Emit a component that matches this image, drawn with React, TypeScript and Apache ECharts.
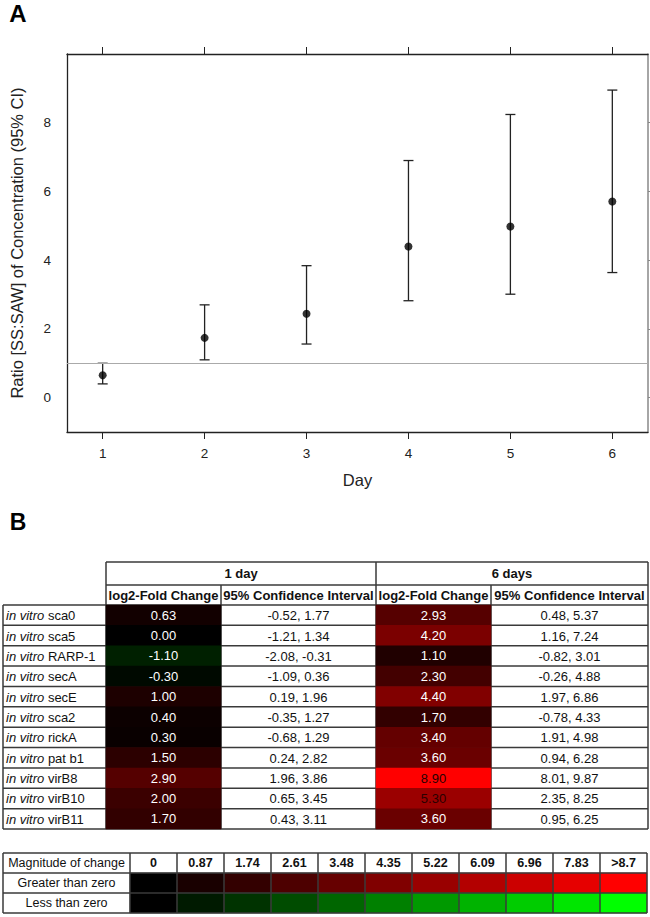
import React, { useEffect, useRef } from "react";
import * as echarts from "echarts";

// ---- Panel A data ----
const days = [1, 2, 3, 4, 5, 6];
const ratioMean = [0.65, 1.74, 2.44, 4.4, 4.98, 5.71];
const ratioLower = [0.4, 1.1, 1.56, 2.82, 3.01, 3.64];
const ratioUpper = [1.0, 2.7, 3.84, 6.9, 8.24, 8.95];
const yTickValues = [0, 2, 4, 6, 8];
const referenceRatio = 1;

// ---- Panel B data ----
const genes = ["sca0", "sca5", "RARP-1", "secA", "secE", "sca2", "rickA", "pat b1", "virB8", "virB10", "virB11"];
const fold1 = [0.63, 0.0, -1.1, -0.3, 1.0, 0.4, 0.3, 1.5, 2.9, 2.0, 1.7];
const ci1 = ["-0.52, 1.77", "-1.21, 1.34", "-2.08, -0.31", "-1.09, 0.36", "0.19, 1.96", "-0.35, 1.27", "-0.68, 1.29", "0.24, 2.82", "1.96, 3.86", "0.65, 3.45", "0.43, 3.11"];
const fold6 = [2.93, 4.2, 1.1, 2.3, 4.4, 1.7, 3.4, 3.6, 8.9, 5.3, 3.6];
const ci6 = ["0.48, 5.37", "1.16, 7.24", "-0.82, 3.01", "-0.26, 4.88", "1.97, 6.86", "-0.78, 4.33", "1.91, 4.98", "0.94, 6.28", "8.01, 9.87", "2.35, 8.25", "0.95, 6.25"];
const timeGroups = ["1 day", "6 days"];
const subHeaders = ["log2-Fold Change", "95% Confidence Interval"];
const magnitudes = [0, 0.87, 1.74, 2.61, 3.48, 4.35, 5.22, 6.09, 6.96, 7.83, 8.7];
const magnitudeLabels = ["0", "0.87", "1.74", "2.61", "3.48", "4.35", "5.22", "6.09", "6.96", "7.83", ">8.7"];
const legendRows = ["Greater than zero", "Less than zero"];
const colorMax = 8.7;

const F = "Liberation Sans, Arial, Helvetica, sans-serif";
const LINE = "#3a3a3a";

function txt(x: number, y: number, text: string, extra: any = {}, z = 20) {
  return {
    type: "text",
    x,
    y,
    z,
    silent: true,
    style: {
      text,
      fill: "#111",
      fontFamily: F,
      fontSize: 13,
      align: "center",
      verticalAlign: "middle",
      ...extra,
    },
  };
}
function ln(x1: number, y1: number, x2: number, y2: number, z = 1, w = 1.5, c = LINE) {
  return { type: "line", z, silent: true, shape: { x1, y1, x2, y2 }, style: { stroke: c, lineWidth: w } };
}

export default function App() {
  const ref = useRef<HTMLDivElement>(null);
  useEffect(() => {
    if (!ref.current) return;
    const chart = echarts.init(ref.current, undefined, { renderer: "svg" });

    // table layout
    const cx = [3, 106, 221, 376, 491, 648];
    const hTop = 562, hMid = 585, bTop = 605, bBot = 829;
    const rowH = (bBot - bTop) / genes.length;
    const lRows = [853, 873, 893, 913];
    const lx0 = 3, lx1 = 130, lxEnd = 647;
    const lColW = (lxEnd - lx1) / magnitudeLabels.length;

    const g: any[] = [];
    g.push(txt(18, 13, "A", { fontSize: 24, fontWeight: "bold", fill: "#000" }));
    g.push(txt(18, 522, "B", { fontSize: 23, fontWeight: "bold", fill: "#000" }));

    // main table lines
    g.push(ln(cx[1], hTop, cx[5], hTop));
    g.push(ln(cx[1], hMid, cx[5], hMid));
    for (let i = 0; i <= genes.length; i++) {
      const y = bTop + i * rowH;
      g.push(ln(cx[0], y, cx[5], y));
    }
    g.push(ln(cx[0], bTop, cx[0], bBot));
    g.push(ln(cx[1], hTop, cx[1], bBot));
    g.push(ln(cx[2], hMid, cx[2], bBot));
    g.push(ln(cx[3], hTop, cx[3], bBot));
    g.push(ln(cx[4], hMid, cx[4], bBot));
    g.push(ln(cx[5], hTop, cx[5], bBot));

    // headers
    g.push(txt((cx[1] + cx[3]) / 2, (hTop + hMid) / 2, timeGroups[0], { fontWeight: "bold" }));
    g.push(txt((cx[3] + cx[5]) / 2, (hTop + hMid) / 2, timeGroups[1], { fontWeight: "bold" }));
    for (let k = 0; k < 4; k++) {
      g.push(txt((cx[k + 1] + cx[k + 2]) / 2, (hMid + bTop) / 2 + 0.5, subHeaders[k % 2], { fontWeight: "bold" }));
    }
    genes.forEach((gname, i) => {
      const yc = bTop + (i + 0.5) * rowH + 0.5;
      g.push(
        txt(6, yc, "{i|in vitro} " + gname, {
          align: "left",
          rich: { i: { fontStyle: "italic", fontFamily: F, fontSize: 13, fill: "#111" } },
        })
      );
      g.push(txt((cx[2] + cx[3]) / 2, yc, ci1[i]));
      g.push(txt((cx[4] + cx[5]) / 2, yc, ci6[i]));
    });

    // legend table
    lRows.forEach((y) => g.push(ln(lx0, y, lxEnd, y, 30)));
    g.push(ln(lx0, lRows[0], lx0, lRows[3], 30));
    for (let j = 0; j <= magnitudeLabels.length; j++) {
      const x = lx1 + j * lColW;
      g.push(ln(x, lRows[0], x, lRows[3], 30));
    }
    g.push(txt((lx0 + lx1) / 2, (lRows[0] + lRows[1]) / 2, "Magnitude of change", { fontSize: 12.5 }));
    magnitudeLabels.forEach((lab, j) => {
      g.push(txt(lx1 + (j + 0.5) * lColW, (lRows[0] + lRows[1]) / 2, lab, { fontWeight: "bold", fontSize: 12.5 }));
    });
    legendRows.forEach((lab, r) => {
      g.push(txt((lx0 + lx1) / 2, (lRows[r + 1] + lRows[r + 2]) / 2, lab, { fontSize: 12.5 }));
    });

    const foldCell = (v: number, i: number) => ({
      value: [0, i, v],
      label: { color: v >= 5 ? "#2a0000" : "#ffffff" },
    });

    const heatLabel = {
      show: true,
      fontFamily: F,
      fontSize: 13,
      formatter: (p: any) => Number(p.value[2]).toFixed(2),
    };

    chart.setOption({
      animation: false,
      backgroundColor: "#ffffff",
      textStyle: { fontFamily: F },
      grid: [
        { left: 59, top: 54, width: 589, height: 378 },
        { left: cx[1], top: bTop, width: cx[2] - cx[1], height: bBot - bTop },
        { left: cx[3], top: bTop, width: cx[4] - cx[3], height: bBot - bTop },
        { left: lx1, top: lRows[1], width: lxEnd - lx1, height: lRows[3] - lRows[1] },
      ],
      xAxis: [
        {
          type: "value",
          gridIndex: 0,
          min: 0.65,
          max: 6.35,
          position: "bottom",
          axisLine: { show: true, onZero: false, lineStyle: { color: "#222", width: 1.3 } },
          axisTick: { show: true, length: 7, customValues: days, lineStyle: { color: "#222" } },
          axisLabel: { customValues: days, fontSize: 13.5, color: "#222", margin: 14, fontFamily: F },
          splitLine: { show: false },
          name: "Day",
          nameLocation: "middle",
          nameGap: 39,
          nameTextStyle: { fontSize: 16.5, color: "#222", fontFamily: F },
        },
        {
          type: "value",
          gridIndex: 0,
          min: 0.65,
          max: 6.35,
          position: "top",
          axisLine: { show: true, onZero: false, lineStyle: { color: "#222", width: 1.3 } },
          axisTick: { show: true, length: 7, customValues: days, lineStyle: { color: "#222" } },
          axisLabel: { show: false },
          splitLine: { show: false },
        },
        { type: "category", gridIndex: 1, data: [timeGroups[0]], show: false },
        { type: "category", gridIndex: 2, data: [timeGroups[1]], show: false },
        { type: "category", gridIndex: 3, data: magnitudeLabels, show: false },
      ],
      yAxis: [
        {
          type: "value",
          gridIndex: 0,
          min: -1,
          max: 10,
          position: "left",
          axisLine: { show: true, onZero: false, lineStyle: { color: "#222", width: 1.3 } },
          axisTick: { show: false },
          axisLabel: { customValues: yTickValues, fontSize: 13.5, color: "#222", margin: 16, fontFamily: F },
          splitLine: { show: false },
          name: "Ratio [SS:SAW] of Concentration (95% CI)",
          nameLocation: "middle",
          nameRotate: 90,
          nameGap: 42,
          nameTextStyle: { fontSize: 16.5, color: "#222", fontFamily: F },
        },
        {
          type: "value",
          gridIndex: 0,
          min: -1,
          max: 10,
          position: "right",
          axisLine: { show: true, onZero: false, lineStyle: { color: "#888", width: 1.5 } },
          axisTick: { show: true, length: 4, customValues: yTickValues, lineStyle: { color: "#888" } },
          axisLabel: { show: false },
          splitLine: { show: false },
        },
        { type: "category", gridIndex: 1, data: genes, inverse: true, show: false },
        { type: "category", gridIndex: 2, data: genes, inverse: true, show: false },
        { type: "category", gridIndex: 3, data: legendRows, inverse: true, show: false },
      ],
      visualMap: {
        type: "continuous",
        show: false,
        min: -colorMax,
        max: colorMax,
        seriesIndex: [2, 3, 4],
        inRange: { color: ["#00ff00", "#000000", "#ff0000"] },
      },
      series: [
        {
          type: "custom",
          xAxisIndex: 0,
          yAxisIndex: 0,
          data: days.map((d, i) => [d, ratioLower[i], ratioUpper[i]]),
          encode: { x: 0, y: [1, 2] },
          renderItem: (params: any, api: any) => {
            const x = api.value(0);
            const lo = api.coord([x, api.value(1)]);
            const hi = api.coord([x, api.value(2)]);
            const hw = 5;
            const st = { stroke: "#222", lineWidth: 1.3 };
            return {
              type: "group",
              children: [
                { type: "line", shape: { x1: lo[0], y1: lo[1], x2: hi[0], y2: hi[1] }, style: st },
                { type: "line", shape: { x1: lo[0] - hw, y1: lo[1], x2: lo[0] + hw, y2: lo[1] }, style: st },
                { type: "line", shape: { x1: hi[0] - hw, y1: hi[1], x2: hi[0] + hw, y2: hi[1] }, style: st },
              ],
            };
          },
          silent: true,
        },
        {
          type: "scatter",
          xAxisIndex: 0,
          yAxisIndex: 0,
          symbolSize: 8,
          itemStyle: { color: "#000" },
          data: days.map((d, i) => [d, ratioMean[i]]),
          markLine: {
            silent: true,
            symbol: "none",
            label: { show: false },
            lineStyle: { color: "#aaaaaa", type: "solid", width: 1.2 },
            data: [{ yAxis: referenceRatio }],
          },
          z: 3,
        },
        {
          type: "heatmap",
          xAxisIndex: 2,
          yAxisIndex: 2,
          z: 5,
          data: fold1.map(foldCell),
          label: heatLabel,
        },
        {
          type: "heatmap",
          xAxisIndex: 3,
          yAxisIndex: 3,
          z: 5,
          data: fold6.map(foldCell),
          label: heatLabel,
        },
        {
          type: "heatmap",
          xAxisIndex: 4,
          yAxisIndex: 4,
          z: 5,
          data: [
            ...magnitudes.map((m, j) => [j, 0, m]),
            ...magnitudes.map((m, j) => [j, 1, -m]),
          ],
          label: { show: false },
        },
      ],
      graphic: { elements: g },
    });
    return () => chart.dispose();
  }, []);
  return <div ref={ref} style={{ position: "absolute", left: 0, top: 0, width: 650, height: 917 }} />;
}
